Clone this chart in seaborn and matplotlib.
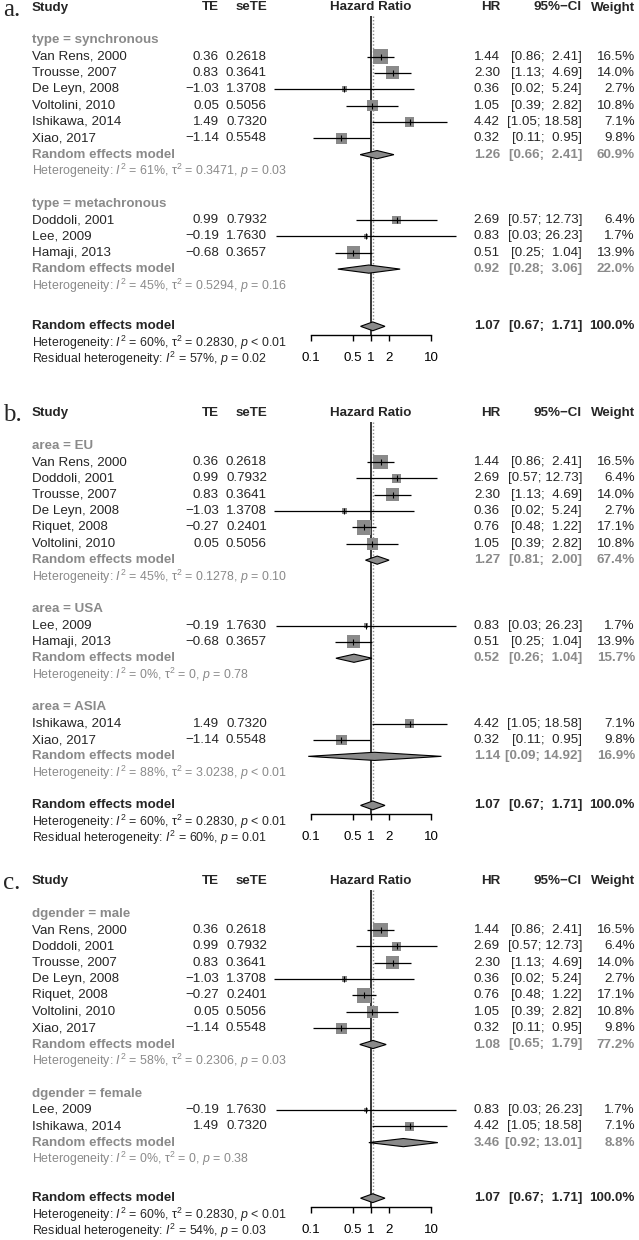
import matplotlib
matplotlib.use("Agg")
import matplotlib.pyplot as plt
import matplotlib.transforms as mtransforms
from matplotlib.ticker import NullLocator
import seaborn as sns
import pandas as pd

# ---- study level values (identical in the three panels) ----
studies = ["Van Rens, 2000", "Doddoli, 2001", "Trousse, 2007", "De Leyn, 2008",
           "Riquet, 2008", "Lee, 2009", "Voltolini, 2010", "Hamaji, 2013",
           "Ishikawa, 2014", "Xiao, 2017"]
te = [0.36, 0.99, 0.83, -1.03, -0.27, -0.19, 0.05, -0.68, 1.49, -1.14]
se_te = [0.2618, 0.7932, 0.3641, 1.3708, 0.2401, 1.7630, 0.5056, 0.3657, 0.7320, 0.5548]
hr = [1.44, 2.69, 2.30, 0.36, 0.76, 0.83, 1.05, 0.51, 4.42, 0.32]
ci_lo = [0.86, 0.57, 1.13, 0.024, 0.48, 0.026, 0.39, 0.25, 1.05, 0.11]
ci_hi = [2.41, 12.73, 4.69, 5.24, 1.22, 26.23, 2.82, 1.04, 18.58, 0.95]
weight = [16.5, 6.4, 14.0, 2.7, 17.1, 1.7, 10.8, 13.9, 7.1, 9.8]

# ---- overall model (same in every panel) ----
overall_hr, overall_lo, overall_hi, overall_w = 1.07, 0.67, 1.71, 100.0
overall_het = ("60%", "0.2830", "< 0.01")

# ---- panel a: type ----
groups_a = ["type = synchronous", "type = metachronous"]
members_a = [["Van Rens, 2000", "Trousse, 2007", "De Leyn, 2008", "Voltolini, 2010",
              "Ishikawa, 2014", "Xiao, 2017"],
             ["Doddoli, 2001", "Lee, 2009", "Hamaji, 2013"]]
re_hr_a = [1.26, 0.92]
re_lo_a = [0.66, 0.28]
re_hi_a = [2.41, 3.06]
re_w_a = [60.9, 22.0]
het_a = [("61%", "0.3471", "= 0.03"), ("45%", "0.5294", "= 0.16")]
resid_a = ("57%", "= 0.02")

# ---- panel b: area ----
groups_b = ["area = EU", "area = USA", "area = ASIA"]
members_b = [["Van Rens, 2000", "Doddoli, 2001", "Trousse, 2007", "De Leyn, 2008",
              "Riquet, 2008", "Voltolini, 2010"],
             ["Lee, 2009", "Hamaji, 2013"],
             ["Ishikawa, 2014", "Xiao, 2017"]]
re_hr_b = [1.27, 0.52, 1.14]
re_lo_b = [0.81, 0.26, 0.09]
re_hi_b = [2.00, 1.04, 14.92]
re_w_b = [67.4, 15.7, 16.9]
het_b = [("45%", "0.1278", "= 0.10"), ("0%", "0", "= 0.78"), ("88%", "3.0238", "< 0.01")]
resid_b = ("60%", "= 0.01")

# ---- panel c: dgender ----
groups_c = ["dgender = male", "dgender = female"]
members_c = [["Van Rens, 2000", "Doddoli, 2001", "Trousse, 2007", "De Leyn, 2008",
              "Riquet, 2008", "Voltolini, 2010", "Xiao, 2017"],
             ["Lee, 2009", "Ishikawa, 2014"]]
re_hr_c = [1.08, 3.46]
re_lo_c = [0.65, 0.92]
re_hi_c = [1.79, 13.01]
re_w_c = [77.2, 8.8]
het_c = [("58%", "0.2306", "= 0.03"), ("0%", "0", "= 0.38")]
resid_c = ("54%", "= 0.03")

x_ticks = [0.1, 0.5, 1, 2, 10]
x_tick_labels = ["0.1", "0.5", "1", "2", "10"]

# ---- layout (pixels) ----
W, H = 639, 1240
RH = 16.35                      # row height
X0, X1 = 250, 470               # forest column
PX_ONE, PX_DEC = 371, 60        # position of HR=1, pixels per decade
COL_STUDY, COL_TE, COL_SE = 32, 219, 267
COL_HR, COL_CI, COL_W = 500, 582, 635
GREY = "#8a8a8a"
FS, FS_HET = 9.6, 8.9
SQ = 6.3                        # square area (pt^2) per % weight

panels = [
    dict(letter="a.", top=7.5, groups=groups_a, members=members_a, re=(re_hr_a, re_lo_a, re_hi_a, re_w_a),
         het=het_a, resid=resid_a, gap=2.5),
    dict(letter="b.", top=413, groups=groups_b, members=members_b, re=(re_hr_b, re_lo_b, re_hi_b, re_w_b),
         het=het_b, resid=resid_b, gap=2.0),
    dict(letter="c.", top=881, groups=groups_c, members=members_c, re=(re_hr_c, re_lo_c, re_hi_c, re_w_c),
         het=het_c, resid=resid_c, gap=2.4),
]

sns.set_theme(style="ticks")
plt.rcParams['font.family'] = ['Liberation Sans', 'DejaVu Sans']
plt.rcParams['mathtext.fontset'] = 'custom'
plt.rcParams['mathtext.rm'] = 'Liberation Sans'
plt.rcParams['mathtext.it'] = 'Liberation Sans:italic'
plt.rcParams['mathtext.bf'] = 'Liberation Sans:bold'

fig = plt.figure(figsize=(W / 100, H / 100), dpi=100)


def num(v, d=2):
    return f"{v:.{d}f}".replace("-", "\u2212")


def ci_text(lo, hi):
    pad = "  " if hi < 10 else " "
    return f"[{lo:.2f};{pad}{hi:.2f}]"


def het_text(i2, tau2, p):
    return f"Heterogeneity: $I^2$ = {i2}, τ$^2$ = {tau2}, $p$ {p}"


for p in panels:
    top = p['top']
    # rows of the panel
    st_rows, st_idx, grp_rows, re_rows, het_rows = [], [], [], [], []
    r = 2
    for members in p['members']:
        grp_rows.append(r)
        for name in members:
            r += 1
            st_rows.append(r)
            st_idx.append(studies.index(name))
        re_rows.append(r + 1)
        het_rows.append(r + 2)
        r += 4
    overall = het_rows[-1] + p['gap']
    axis_row = overall + 0.55
    y_end = overall + 2.5

    ax_top = top - 0.8 * RH
    ax_bot = top + y_end * RH
    ax = fig.add_axes([X0 / W, 1 - ax_bot / H, (X1 - X0) / W, (ax_bot - ax_top) / H])
    ax.set_xscale('log')
    tr = mtransforms.blended_transform_factory(fig.transFigure, ax.transData)

    def put(px, row, s, ha='left', **kw):
        ax.text(px / W, row, s, transform=tr, ha=ha, va='center', clip_on=False, **kw)

    # squares sized by weight
    df = pd.DataFrame({'hr': [hr[i] for i in st_idx], 'row': st_rows,
                       'w': [weight[i] for i in st_idx]})
    sns.scatterplot(data=df, x='hr', y='row', size='w',
                    sizes=(SQ * min(weight), SQ * max(weight)),
                    size_norm=(min(weight), max(weight)),
                    marker='s', color=GREY, linewidth=0, legend=False, ax=ax, zorder=2)
    ax.hlines(df['row'], [ci_lo[i] for i in st_idx], [ci_hi[i] for i in st_idx],
              color='black', lw=0.9, zorder=3)
    ax.scatter(df['hr'], df['row'], marker='|', s=14, color='black', linewidths=0.8, zorder=4)

    # diamonds
    re_hr, re_lo, re_hi, re_w = p['re']
    for k, row in enumerate(re_rows):
        ax.fill([re_lo[k], re_hr[k], re_hi[k], re_hr[k]], [row, row - 0.25, row, row + 0.25],
                facecolor=GREY, edgecolor='black', lw=0.8, zorder=3)
    ax.fill([overall_lo, overall_hr, overall_hi, overall_hr],
            [overall, overall - 0.27, overall, overall + 0.27],
            facecolor=GREY, edgecolor='black', lw=0.8, zorder=3)

    # reference line and pooled estimate line
    ax.vlines(1, 0.55, axis_row, color='black', lw=1.1, zorder=1)
    ax.vlines(overall_hr, 0.55, overall, colors=GREY, linestyles=(0, (1, 1.5)), lw=1.0, zorder=1)

    ax.set_xlim(10 ** ((X0 - PX_ONE) / PX_DEC), 10 ** ((X1 - PX_ONE) / PX_DEC))
    ax.set_ylim(y_end, -0.8)
    ax.set_xlabel("")
    ax.set_ylabel("")
    ax.patch.set_alpha(0)
    for side in ['top', 'right', 'left']:
        ax.spines[side].set_visible(False)
    ax.spines['bottom'].set_position(('data', axis_row))
    ax.spines['bottom'].set_bounds(0.1, 10)
    ax.spines['bottom'].set_linewidth(1.0)
    ax.spines['bottom'].set_color('black')
    ax.set_xticks(x_ticks)
    ax.set_xticklabels(x_tick_labels)
    ax.xaxis.set_minor_locator(NullLocator())
    ax.tick_params(axis='x', length=4.3, width=1.0, color='black', labelsize=FS, pad=8,
                   direction='out', labelcolor='black')
    ax.set_yticks([])

    # header
    fig.text(3 / W, 1 - (top + 2) / H, p['letter'], family=['Liberation Serif', 'DejaVu Serif'],
             fontsize=18, ha='left', va='center')
    put(COL_STUDY, 0, "Study", fontsize=FS, fontweight='bold')
    put(COL_TE, 0, "TE", ha='right', fontsize=FS, fontweight='bold')
    put(COL_SE, 0, "seTE", ha='right', fontsize=FS, fontweight='bold')
    put(PX_ONE, 0, "Hazard Ratio", ha='center', fontsize=FS, fontweight='bold')
    put(COL_HR, 0, "HR", ha='right', fontsize=FS, fontweight='bold')
    put(COL_CI, 0, "95%\u2212CI", ha='right', fontsize=FS, fontweight='bold')
    put(COL_W, 0, "Weight", ha='right', fontsize=FS, fontweight='bold')

    # study rows
    for row, i in zip(st_rows, st_idx):
        put(COL_STUDY, row, studies[i], fontsize=FS)
        put(COL_TE, row, num(te[i]), ha='right', fontsize=FS)
        put(COL_SE, row, num(se_te[i], 4), ha='right', fontsize=FS)
        put(COL_HR, row, num(hr[i]), ha='right', fontsize=FS)
        put(COL_CI, row, ci_text(ci_lo[i], ci_hi[i]), ha='right', fontsize=FS)
        put(COL_W, row, f"{weight[i]:.1f}%", ha='right', fontsize=FS)

    # subgroups
    for k, g in enumerate(p['groups']):
        put(COL_STUDY, grp_rows[k], g, fontsize=FS, fontweight='bold', color=GREY)
        put(COL_STUDY, re_rows[k], "Random effects model", fontsize=FS, fontweight='bold', color=GREY)
        put(COL_HR, re_rows[k], num(re_hr[k]), ha='right', fontsize=FS, fontweight='bold', color=GREY)
        put(COL_CI, re_rows[k], ci_text(re_lo[k], re_hi[k]), ha='right', fontsize=FS,
            fontweight='bold', color=GREY)
        put(COL_W, re_rows[k], f"{re_w[k]:.1f}%", ha='right', fontsize=FS, fontweight='bold', color=GREY)
        put(COL_STUDY, het_rows[k], het_text(*p['het'][k]), fontsize=FS_HET, color=GREY)

    # overall
    put(COL_STUDY, overall, "Random effects model", fontsize=FS, fontweight='bold')
    put(COL_HR, overall, num(overall_hr), ha='right', fontsize=FS, fontweight='bold')
    put(COL_CI, overall, ci_text(overall_lo, overall_hi), ha='right', fontsize=FS, fontweight='bold')
    put(COL_W, overall, f"{overall_w:.1f}%", ha='right', fontsize=FS, fontweight='bold')
    put(COL_STUDY, overall + 1, het_text(*overall_het), fontsize=FS_HET)
    i2_res, p_res = p['resid']
    put(COL_STUDY, overall + 2, f"Residual heterogeneity: $I^2$ = {i2_res}, $p$ {p_res}", fontsize=FS_HET)

fig.savefig("out.png", dpi=100)
